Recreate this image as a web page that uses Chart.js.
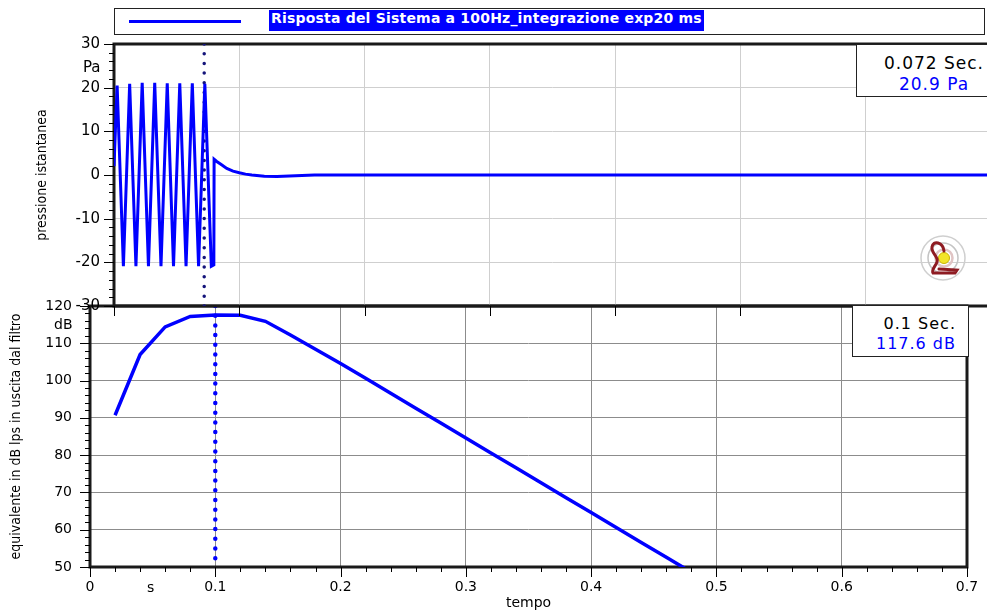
<!DOCTYPE html>
<html>
<head>
<meta charset="utf-8">
<script src="https://cdn.jsdelivr.net/npm/chart.js@4.4.1/dist/chart.umd.min.js"></script>
<style>
html, body { margin: 0; padding: 0; background: #fff; width: 987px; height: 613px; overflow: hidden; }
#wrap { position: relative; width: 987px; height: 613px; overflow: hidden; }
canvas { position: absolute; left: 0; top: 0; }
#cBottom { z-index: 1; }
#cTop { z-index: 2; }
.txt { position: absolute; z-index: 3; font-family: "DejaVu Sans", sans-serif; color: #000; white-space: nowrap; }
#legenda { position: absolute; z-index: 3; left: 114px; top: 8px; width: 871px; height: 27px; box-sizing: border-box; border: 1.5px solid #222; background: #fff; }
#legenda .linea { position: absolute; left: 14px; top: 11px; width: 112px; height: 3px; background: #0000ff; }
#legenda .etichetta { position: absolute; left: 154px; top: 1px; height: 21px; line-height: 21px; padding: 0 2px; background: #0000ff; color: #fff; font: bold 14px "DejaVu Sans", sans-serif; letter-spacing: 0.2px; }
.lettura { position: absolute; z-index: 3; background: #fff; border: 1.5px solid #222; box-sizing: border-box; font-family: "DejaVu Sans", sans-serif; letter-spacing: 1px; }
.lettura div { position: absolute; left: 0; height: 20px; line-height: 20px; white-space: nowrap; }
#logo { position: absolute; z-index: 3; left: 919px; top: 234px; }
</style>
</head>
<body>
<div id="wrap">
  <canvas id="cBottom" width="1000" height="613"></canvas>
  <canvas id="cTop" width="1000" height="613"></canvas>

  <div id="legenda"><div class="linea"></div><div class="etichetta" id="legTesto"></div></div>

  <div class="lettura" id="letturaTop" style="left:856px; top:44px; width:160px; height:53px; font-size:17px;">
    <div id="ltT" style="top:8px; width:154px; text-align:center; color:#000;"></div>
    <div id="ltV" style="top:29px; width:154px; text-align:center; color:#0000ff;"></div>
  </div>
  <div class="lettura" id="letturaBottom" style="left:852px; top:305px; width:117px; height:52px; font-size:16px;">
    <div id="lbT" style="top:8px; width:103px; text-align:right; color:#000;"></div>
    <div id="lbV" style="top:28px; width:103px; text-align:right; color:#0000ff;"></div>
  </div>

  <span class="txt" style="left:83px; top:58px; font-size:15px;">Pa</span>
  <span class="txt" style="left:54px; top:316px; font-size:14px;">dB</span>
  <span class="txt" style="left:147px; top:579px; font-size:14px;">s</span>

  <svg id="logo" width="48" height="48" viewBox="0 0 48 48">
    <circle cx="24" cy="24" r="22" fill="none" stroke="#cfcfcf" stroke-width="1.5"/>
    <circle cx="24" cy="24" r="15" fill="none" stroke="#c4c4c4" stroke-width="1.5"/>
    <circle cx="25" cy="24" r="8.5" fill="none" stroke="#e0c4c4" stroke-width="2.5"/>
    <circle cx="25" cy="24" r="5.5" fill="#f2e52a" stroke="#c9b400" stroke-width="1"/>
    <path d="M25 17 C 24 8, 14 6, 13 13 C 12 20, 20 22, 18 28 C 16 33, 12 36, 14 39 L 36 39 L 38 36 L 20 35" fill="none" stroke="#8e1b22" stroke-width="3" stroke-linecap="round"/>
  </svg>
</div>

<script>
// testi
const legendaTesto = "Risposta del Sistema a 100Hz_integrazione exp20 ms";
const titoloYTop = "pressione istantanea";
const titoloYBottom = "equivalente in dB lps in uscita dal filtro";
const titoloX = "tempo";

// segnale di pressione (s, Pa)
const tempoTop = [0, 0.0025, 0.0075, 0.0125, 0.0175, 0.0225, 0.0275, 0.0325, 0.0375, 0.0425, 0.0475,
  0.0525, 0.0575, 0.0625, 0.0675, 0.0725, 0.0777, 0.0797, 0.0799, 0.082, 0.085, 0.09, 0.095, 0.1,
  0.105, 0.11, 0.12, 0.13, 0.14, 0.15, 0.16, 0.7];
const pressione = [2, 20.5, -20.9, 20.9, -20.9, 21.1, -20.9, 21.1, -20.9, 21.0, -20.9,
  21.0, -20.9, 21.0, -20.9, 20.9, -20.9, -20.6, 3.6, 3.1, 2.5, 1.5, 0.9, 0.5,
  0.2, 0.0, -0.3, -0.35, -0.25, -0.1, 0.0, 0.0];

// livello equivalente (s, dB)
const tempoBottom = [0.02, 0.04, 0.06, 0.08, 0.1, 0.12, 0.14, 0.16, 0.18, 0.2, 0.22, 0.24, 0.26,
  0.28, 0.3, 0.32, 0.34, 0.36, 0.38, 0.4, 0.42, 0.44, 0.46, 0.48];
const livello = [90.7, 107.0, 114.4, 117.2, 117.6, 117.5, 115.9, 112.2, 108.4, 104.6, 100.6, 96.6, 92.6,
  88.6, 84.6, 80.6, 76.6, 72.6, 68.6, 64.6, 60.6, 56.6, 52.6, 48.6];

// cursori
const cursoreTop = 0.072;
const cursoreTopValore = 20.9;
const cursoreBottom = 0.1;
const cursoreBottomValore = 117.6;

const rangeX = [0, 0.7];
const rangeYTop = [-30, 30];
const rangeYBottom = [50, 120];

document.getElementById('legTesto').textContent = legendaTesto;
document.getElementById('ltT').textContent = cursoreTop + " Sec.";
document.getElementById('ltV').textContent = cursoreTopValore.toFixed(1) + " Pa";
document.getElementById('lbT').textContent = cursoreBottom + " Sec.";
document.getElementById('lbV').textContent = cursoreBottomValore.toFixed(1) + " dB";

const FONT = "DejaVu Sans";

// tacche maggiori e minori sugli assi
const tickMarks = {
  id: 'tickMarks',
  afterDraw(chart, args, opts) {
    const { ctx, chartArea: a } = chart;
    ctx.save();
    ctx.strokeStyle = '#000';
    ctx.lineWidth = 1;
    (opts.axes || []).forEach(t => {
      const s = chart.scales[t.id];
      const n = Math.round((s.max - s.min) / t.step);
      for (let i = 0; i <= n; i++) {
        const len = (i % t.every === 0) ? t.major : t.minor;
        if (!len) continue;
        const p = Math.round(s.getPixelForValue(s.min + i * t.step)) + 0.5;
        ctx.beginPath();
        if (t.id === 'x') { ctx.moveTo(p, a.bottom); ctx.lineTo(p, a.bottom + len); }
        else { ctx.moveTo(a.left, p); ctx.lineTo(a.left - len, p); }
        ctx.stroke();
      }
    });
    ctx.restore();
  }
};

// cornice spessa
const frame = {
  id: 'frame',
  beforeDatasetsDraw(chart) {
    const { ctx, chartArea: a } = chart;
    ctx.save();
    ctx.strokeStyle = '#1a1a1a';
    ctx.lineWidth = 3;
    ctx.strokeRect(a.left, a.top, a.right - a.left, a.bottom - a.top);
    ctx.restore();
  }
};

function punti(xs, ys) { return xs.map((x, i) => ({ x, y: ys[i] })); }

// grafico in basso
new Chart(document.getElementById('cBottom'), {
  type: 'line',
  data: {
    datasets: [
      { data: punti(tempoBottom, livello), borderColor: '#0000ff', borderWidth: 3.5, pointRadius: 0, tension: 0 },
      { data: punti([cursoreBottom, cursoreBottom], rangeYBottom.slice().reverse()), borderColor: '#0000ff', borderWidth: 4.5,
        borderDash: [0, 9.7], borderCapStyle: 'round', pointRadius: 0 }
    ]
  },
  options: {
    responsive: false, animation: false, events: [],
    layout: { padding: { left: 0, top: 306, right: 33, bottom: 0 } },
    plugins: {
      legend: { display: false }, tooltip: { enabled: false },
      tickMarks: { axes: [
        { id: 'x', step: 0.02, every: 5, major: 10, minor: 5 },
        { id: 'y', step: 2, every: 5, major: 10, minor: 5 }
      ] }
    },
    scales: {
      x: {
        type: 'linear', min: rangeX[0], max: rangeX[1],
        ticks: { stepSize: 0.1, padding: 12, color: '#000', font: { family: FONT, size: 14 }, maxRotation: 0 },
        grid: { color: '#8c8c8c', drawTicks: false },
        border: { display: false },
        title: { display: true, text: titoloX, color: '#000', font: { family: FONT, size: 14 }, padding: { top: 0, bottom: 1 } },
        afterFit: s => { s.height = 46; }
      },
      y: {
        min: rangeYBottom[0], max: rangeYBottom[1],
        ticks: { stepSize: 10, padding: 18, color: '#000', font: { family: FONT, size: 14 } },
        grid: { color: '#8c8c8c', drawTicks: false },
        border: { display: false },
        title: { display: true, text: titoloYBottom, color: '#000', font: { family: "DejaVu Sans Condensed", size: 14 }, padding: { top: 8, bottom: 0 } },
        afterFit: s => { s.width = 90; }
      }
    }
  },
  plugins: [tickMarks, frame]
});

// grafico in alto
new Chart(document.getElementById('cTop'), {
  type: 'line',
  data: {
    datasets: [
      { data: punti(tempoTop, pressione), borderColor: '#0000ff', borderWidth: 3, pointRadius: 0, tension: 0 },
      { data: punti([cursoreTop, cursoreTop], rangeYTop.slice().reverse()), borderColor: '#14147a', borderWidth: 3.5,
        borderDash: [0, 9.7], borderCapStyle: 'round', pointRadius: 0 }
    ]
  },
  options: {
    responsive: false, animation: false, events: [],
    layout: { padding: { left: 0, top: 44, right: 9, bottom: 0 } },
    plugins: {
      legend: { display: false }, tooltip: { enabled: false },
      tickMarks: { axes: [
        { id: 'x', step: 0.1, every: 1, major: 10, minor: 0 },
        { id: 'y', step: 2, every: 5, major: 10, minor: 5 }
      ] }
    },
    scales: {
      x: {
        type: 'linear', min: rangeX[0], max: rangeX[1],
        ticks: { display: false, stepSize: 0.1 },
        grid: { color: '#cfcfcf', drawTicks: false },
        border: { display: false },
        afterFit: s => { s.height = 307; }
      },
      y: {
        min: rangeYTop[0], max: rangeYTop[1],
        ticks: { stepSize: 10, padding: 14, color: '#000', font: { family: FONT, size: 15 } },
        grid: { color: '#cfcfcf', drawTicks: false },
        border: { display: false },
        title: { display: true, text: titoloYTop, color: '#000', font: { family: "DejaVu Sans Condensed", size: 14 }, padding: { top: 34, bottom: 0 } },
        afterFit: s => { s.width = 114; }
      }
    }
  },
  plugins: [tickMarks, frame]
});
</script>
</body>
</html>
